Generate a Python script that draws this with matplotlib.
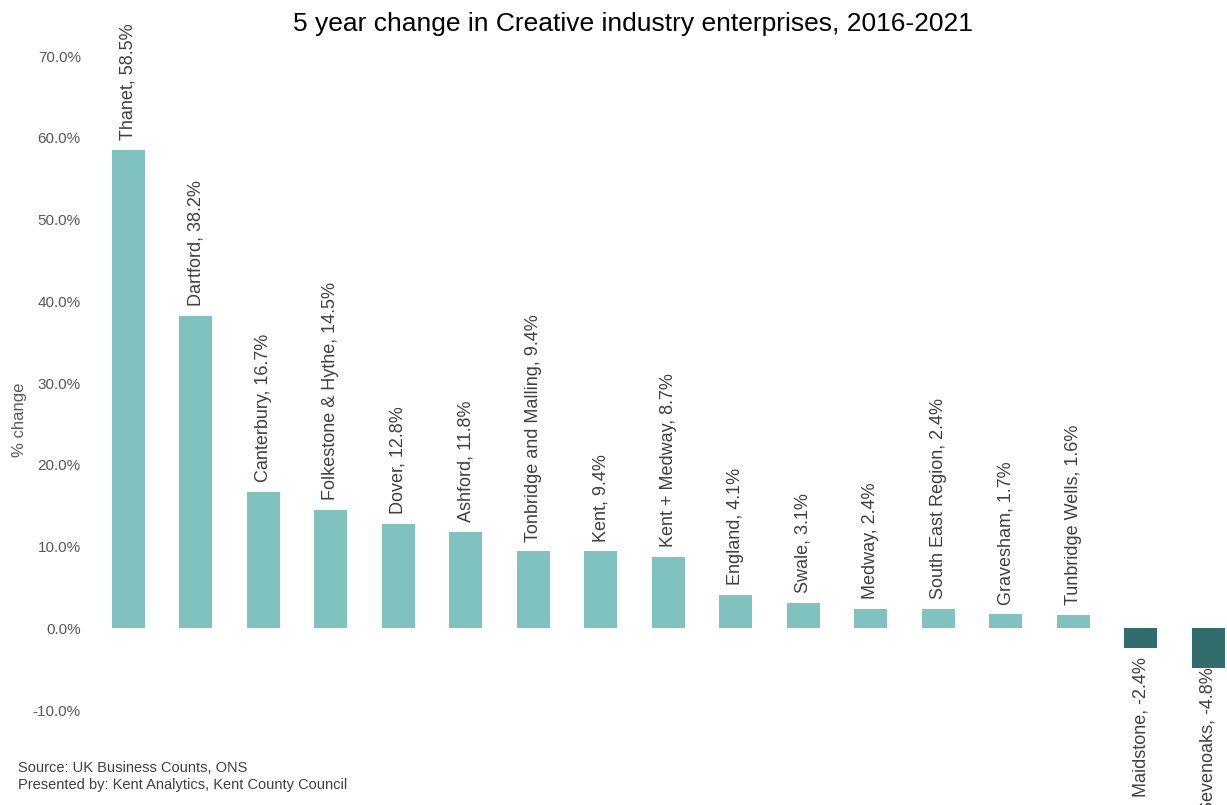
import matplotlib.pyplot as plt
from matplotlib.ticker import FuncFormatter

plt.rcParams['font.family'] = ['Liberation Sans', 'DejaVu Sans']

areas = ["Thanet", "Dartford", "Canterbury", "Folkestone & Hythe", "Dover",
         "Ashford", "Tonbridge and Malling", "Kent", "Kent + Medway", "England",
         "Swale", "Medway", "South East Region", "Gravesham", "Tunbridge Wells",
         "Maidstone", "Sevenoaks"]
change = [58.5, 38.2, 16.7, 14.5, 12.8, 11.8, 9.4, 9.4, 8.7, 4.1,
          3.1, 2.4, 2.4, 1.7, 1.6, -2.4, -4.8]

pos_color = "#80c2c0"
neg_color = "#306d6c"

fig = plt.figure(figsize=(12.27, 8.05), dpi=100)
ax = fig.add_axes([0.0772, 0.118, 0.935, 0.8124])

x = list(range(len(areas)))
colors = [pos_color if v >= 0 else neg_color for v in change]
ax.bar(x, change, width=0.49, color=colors)

# rotated "Name, value%" label above (or below) each bar
for xi, name, v in zip(x, areas, change):
    label = f"{name}, {v:.1f}%"
    if v >= 0:
        ax.annotate(label, (xi, v), xytext=(0, 7), textcoords="offset points",
                    rotation=90, ha="center", va="bottom", fontsize=13, color="#404040",
                    annotation_clip=False)
    else:
        # the last label would run off the figure, so it sits right on the bar end
        gap = -7 if xi < len(areas) - 1 else 0
        ax.annotate(label, (xi, v), xytext=(0, gap), textcoords="offset points",
                    rotation=90, ha="center", va="top", fontsize=13, color="#404040",
                    annotation_clip=False)

ax.set_xlim(-0.5, len(areas) - 0.5)
ax.set_ylim(-10, 70)
ax.set_yticks(range(-10, 71, 10))
ax.yaxis.set_major_formatter(FuncFormatter(lambda v, p: f"{v:.1f}%"))
ax.tick_params(axis="y", length=0, labelsize=11, labelcolor="#595959", pad=10)
ax.set_xticks([])
for s in ax.spines.values():
    s.set_visible(False)

fig.text(0.0155, 0.478, "% change", rotation=90, ha="center", va="center",
         fontsize=12, color="#595959")
fig.text(0.5155, 0.97, "5 year change in Creative industry enterprises, 2016-2021",
         ha="center", va="center", fontsize=19, color="#000000")
fig.text(0.0147, 0.0357, "Source: UK Business Counts, ONS\nPresented by: Kent Analytics, Kent County Council",
         ha="left", va="center", fontsize=10.5, color="#404040", linespacing=1.3)

fig.savefig("out.png", dpi=100)
